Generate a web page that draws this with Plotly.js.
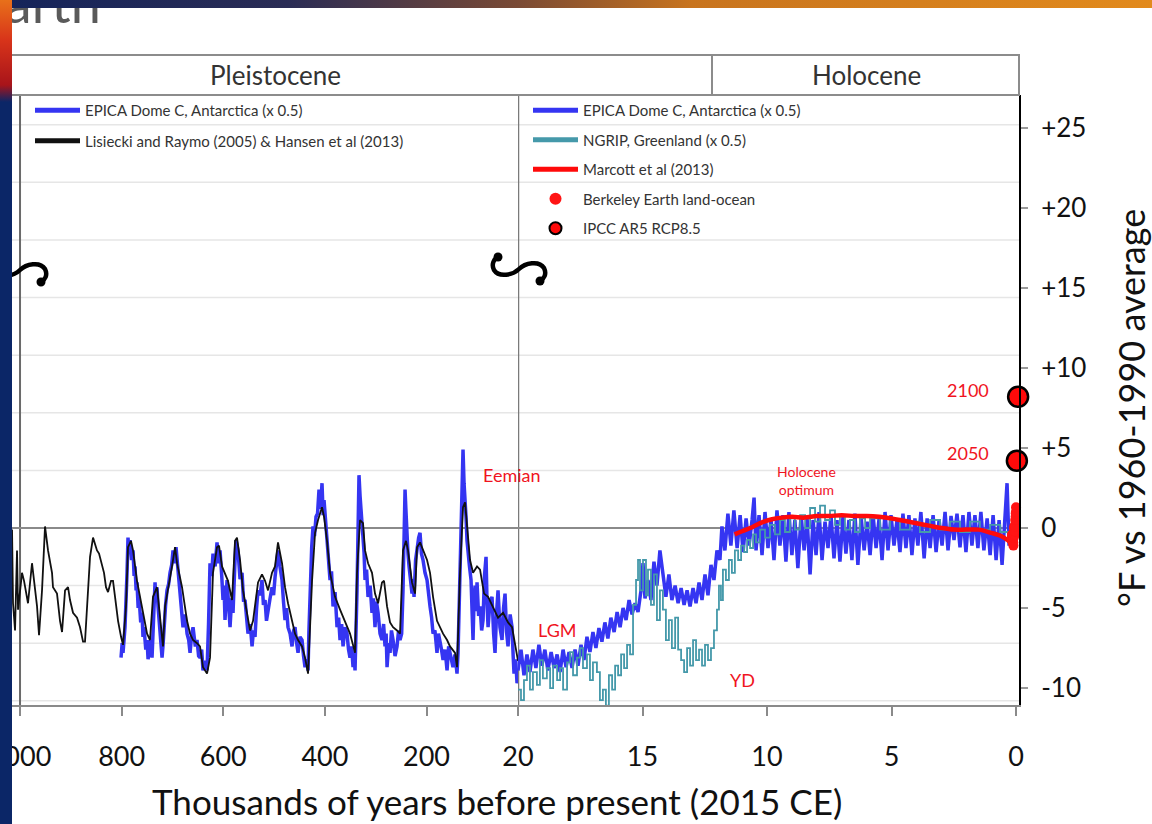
<!DOCTYPE html>
<html><head><meta charset="utf-8">
<script src="https://cdn.plot.ly/plotly-3.0.1.min.js"></script>
<style>
body{margin:0;background:#fff;}
#wrap{position:relative;width:1152px;height:824px;overflow:hidden;background:#fff;}
#chart{position:absolute;left:0;top:0;width:1152px;height:824px;}
#title{position:absolute;left:-26px;top:-24px;font-family:Lato,"Open Sans",sans-serif;font-size:54px;line-height:54px;color:#5a5a5a;z-index:5;white-space:nowrap;}
#topbar{position:absolute;left:0;top:0;width:1152px;height:8px;z-index:6;background:linear-gradient(90deg,#14245a 0%,#2a2c55 25%,#7a4a35 45%,#c8741e 60%,#e28a1c 100%);}
#leftbar{position:absolute;left:0;top:0;width:12px;height:824px;z-index:7;background:linear-gradient(180deg,#e8701a 0px,#d8341a 40px,#a8141a 85px,#0b2667 102px,#0b2667 824px);}
</style></head><body>
<div id="wrap"><div id="chart"></div><div id="title">Earth</div><div id="topbar"></div><div id="leftbar"></div></div>
<script>
// ---------- DATA (age in thousands of years BP, temperature in °F vs 1960-1990) ----------
const lisieckiData = [[1015.7,-0.1],[1013.8,-4.7],[1009.8,-6.4],[1005.9,-1.4],[1003.9,-5.1],[996.1,-2.8],[992.1,-3.3],[984.3,-4.7],[976.4,-2.2],[974.4,-2.8],[966.5,-4.9],[962.6,-6.7],[956.7,-3.9],[950.8,0.1],[944.9,-1.4],[937.0,-2.8],[935.1,-3.7],[927.2,-4.1],[921.3,-5.8],[917.3,-6.5],[911.4,-3.9],[905.5,-3.7],[901.6,-4.5],[895.7,-5.3],[887.8,-5.6],[881.9,-6.2],[876.0,-7.1],[872.1,-7.1],[868.1,-4.9],[862.2,-1.8],[856.3,-0.6],[848.5,-1.4],[844.5,-1.6],[838.6,-2.4],[834.7,-2.8],[830.8,-3.7],[826.8,-4.0],[820.9,-3.3],[817.0,-3.3],[813.0,-4.3],[807.1,-5.8],[801.2,-6.8],[797.3,-7.3],[791.4,-4.9],[787.5,-1.2],[781.6,-0.8],[777.6,-1.4],[769.8,-3.3],[763.8,-4.3],[757.9,-5.3],[750.0,-6.6],[744.2,-7.0],[738.3,-4.3],[730.4,-3.7],[726.4,-4.9],[718.6,-7.4],[714.6,-4.9],[708.7,-3.7],[700.9,-2.4],[694.9,-1.2],[691.0,-2.2],[681.2,-3.7],[671.3,-5.8],[665.4,-6.6],[659.5,-7.0],[651.7,-7.2],[645.8,-7.4],[639.9,-8.7],[632.0,-9.1],[626.1,-8.1],[620.2,-2.8],[612.3,-1.2],[608.4,-1.1],[602.5,-2.4],[596.6,-2.8],[590.7,-3.3],[582.8,-4.5],[576.9,-0.8],[573.0,-0.6],[567.0,-2.0],[561.1,-3.9],[553.3,-5.3],[547.4,-6.4],[541.4,-5.8],[531.6,-3.4],[523.8,-2.9],[517.8,-3.3],[511.9,-3.9],[504.1,-2.8],[498.2,-2.4],[492.3,-0.9],[484.4,-2.2],[478.5,-3.7],[472.6,-4.7],[464.7,-5.8],[458.8,-6.6],[452.9,-7.0],[445.0,-7.4],[439.1,-8.1],[433.2,-9.1],[425.3,-3.3],[419.4,-0.3],[413.5,0.5],[405.7,1.3],[401.7,0.7],[395.8,-0.8],[389.9,-2.8],[380.1,-4.3],[370.2,-5.1],[360.4,-5.8],[350.6,-6.6],[340.7,-7.8],[336.8,-2.8],[330.9,0.5],[325.0,0.3],[321.0,-1.4],[315.1,-2.2],[307.3,-2.8],[301.4,-4.1],[295.4,-4.7],[287.6,-3.4],[283.6,-3.3],[277.7,-4.9],[271.8,-5.9],[265.9,-6.2],[258.1,-6.4],[252.2,-6.6],[246.3,-1.4],[240.4,-0.8],[236.4,-1.4],[228.6,-3.4],[222.6,-4.1],[218.7,-1.2],[212.8,-0.9],[206.9,-1.4],[199.0,-2.0],[193.1,-2.8],[187.2,-4.3],[179.4,-5.8],[173.4,-6.2],[167.5,-6.6],[159.6,-7.0],[153.8,-7.4],[143.9,-7.8],[140.0,-8.7],[134.1,-2.8],[128.2,1.3],[124.2,1.6],[120.3,0.3],[114.4,-2.0],[108.5,-2.8],[100.6,-2.4],[94.7,-2.6],[86.8,-4.1],[78.9,-4.3],[69.1,-4.9],[59.3,-5.6],[49.4,-5.3],[39.6,-5.9],[31.7,-6.2],[21.9,-8.1],[20.0,-8.3]];

const epicaPleistocene = [[801.2,-8.1],[799,-7.2],[797.3,-7.8],[793.4,-6.2],[789.4,-2.8],[787.5,-0.6],[785.5,-1.5],[783.5,-0.75],[780.5,-2.0],[777.6,-1.4],[775.5,-3.0],[773.7,-2.4],[771.5,-3.9],[769.8,-3.4],[767.5,-5.0],[765.8,-4.3],[762.5,-5.9],[759.9,-5.3],[758,-6.8],[756.0,-6.2],[752.5,-7.6],[750.0,-7.0],[748,-8.2],[746.1,-7.8],[743,-7.0],[740.2,-8.1],[738.3,-6.2],[734.3,-3.4],[732.5,-4.4],[730.4,-3.7],[728.4,-4.9],[725.5,-6.0],[722.5,-7.0],[720.5,-8.1],[718.5,-7.3],[716.6,-6.2],[713.5,-4.8],[710.7,-3.9],[707.5,-3.5],[704.8,-2.8],[701.5,-2.3],[698.9,-1.4],[696,-2.2],[693.0,-1.2],[691.0,-2.0],[688,-3.3],[685.1,-4.1],[682,-5.2],[679.2,-6.2],[675,-5.4],[671.3,-6.6],[668,-7.0],[665.4,-7.8],[662,-6.6],[659.5,-6.2],[655,-7.4],[651.7,-7.0],[648.5,-8.0],[645.8,-8.1],[642.5,-7.6],[639.9,-8.9],[636,-8.3],[632.0,-8.9],[629,-6.0],[626.1,-2.2],[623,-3.0],[620.2,-1.6],[616,-2.4],[612.3,-0.9],[609,-2.2],[606.4,-1.4],[603,-3.0],[600.5,-4.5],[598.5,-3.6],[596.6,-5.75],[592.6,-3.25],[589.5,-4.6],[586.7,-6.2],[583.5,-4.4],[580.8,-5.3],[577.5,-2.5],[574.9,-0.75],[571.0,-1.4],[567,-3.2],[563.1,-2.8],[560,-4.6],[557.2,-4.5],[554,-6.0],[551.3,-6.6],[547,-6.0],[543.4,-7.4],[540.5,-6.4],[537.5,-6.8],[534.5,-5.0],[531.6,-3.9],[527.5,-4.2],[523.8,-3.25],[521,-4.8],[517.8,-4.5],[515,-5.8],[511.9,-5.3],[508,-4.4],[504.1,-3.7],[501,-4.2],[498.2,-3.1],[495,-2.2],[492.3,-1.4],[488.5,-2.4],[484.4,-3.25],[481.5,-4.6],[478.5,-5.75],[475.5,-5.0],[472.6,-6.2],[468.5,-6.6],[464.7,-7.4],[461.5,-6.4],[458.8,-6.2],[455.5,-7.2],[452.9,-7.8],[449,-6.8],[445.0,-7.0],[442,-8.0],[439.1,-8.7],[436,-8.2],[433.2,-8.9],[431.5,-6.5],[429.3,-3.7],[426,-1.2],[423.4,0.1],[420.5,-0.5],[417.5,0.7],[414.5,0.9],[411.6,2.4],[408.5,1.2],[405.7,2.8],[403.5,0.8],[401.7,1.75],[398.5,0.2],[395.8,-0.75],[392.5,-2.2],[389.9,-3.25],[387,-2.7],[384.0,-4.9],[380,-4.0],[376.1,-6.2],[373,-5.6],[370.2,-7.0],[367,-6.0],[364.3,-7.4],[360.5,-6.2],[356.5,-6.6],[353.5,-7.6],[350.6,-8.1],[347.5,-7.4],[344.6,-8.7],[342.5,-7.8],[340.7,-8.9],[336.8,-3.9],[334.8,1.3],[332.9,3.3],[330.8,2.0],[328.9,1.3],[326.9,0.4],[325.0,-0.6],[323,-1.5],[321.0,-3.25],[318,-2.6],[315.1,-4.3],[311,-3.6],[307.3,-5.3],[304.5,-4.4],[301.4,-6.2],[298.5,-4.6],[295.4,-5.3],[291.5,-6.6],[287.6,-7.0],[284.5,-6.0],[281.7,-7.4],[279.5,-6.6],[277.7,-8.7],[274.5,-7.2],[271.8,-7.8],[269,-6.4],[265.9,-7.0],[262,-8.0],[258.1,-7.4],[255,-6.4],[252.2,-7.0],[249,-6.6],[246.3,-3.9],[244.3,0.5],[242.3,2.4],[240.4,1.0],[238.4,-0.6],[236.5,-1.6],[234.4,-2.4],[231.5,-3.4],[228.6,-4.1],[226.5,-3.2],[224.6,-4.3],[221.5,-2.0],[218.7,-1.2],[215.5,-0.6],[212.8,-0.3],[210,-1.6],[206.9,-2.0],[203,-2.8],[199.0,-3.25],[196,-4.4],[193.1,-4.9],[190,-5.6],[187.2,-6.6],[183.5,-6.4],[179.4,-7.8],[176.5,-6.6],[173.4,-7.0],[170.5,-7.6],[167.5,-8.25],[163.5,-7.6],[159.6,-8.9],[156.5,-7.4],[153.8,-7.8],[151,-8.2],[147.9,-8.7],[144,-7.9],[140.0,-9.1],[138,-7.8],[136.0,-4.9],[134,-1.0],[132.1,1.75],[130,3.0],[128.2,4.9],[126.2,2.8],[124.3,2.0],[122.3,0.7],[120.3,-0.8],[118.3,-1.8],[115.5,-2.4],[112.4,-3.25],[110.5,-5.5],[108.5,-7.0],[106.5,-4.5],[104.5,-3.6],[102.5,-5.2],[100.6,-3.4],[97.5,-5.5],[94.7,-4.9],[91.5,-6.4],[88.8,-5.75],[86,-3.0],[84.5,-2.2],[82.9,-1.8],[80.8,-4.8],[78.9,-6.2],[75,-4.6],[71.1,-4.3],[68,-6.6],[65.2,-7.8],[62,-5.2],[59.3,-3.9],[55.5,-6.2],[51.4,-7.0],[48.5,-5.0],[45.5,-4.1],[42.5,-6.5],[39.6,-7.4],[35.5,-5.4],[31.7,-6.2],[29.5,-8.0],[27.8,-9.1],[24.5,-8.2],[21.9,-9.7],[20.0,-9.0]];

const epicaHolocene = [[20.0,-8.9],[19.88,-7.6],[19.76,-9.2],[19.64,-7.9],[19.52,-9.0],[19.40,-7.6],[19.28,-8.75],[19.16,-7.3],[19.04,-8.6],[18.92,-7.6],[18.80,-8.9],[18.67,-7.75],[18.55,-8.75],[18.43,-7.9],[18.31,-9.0],[18.19,-7.6],[18.07,-8.7],[17.95,-7.75],[17.83,-8.75],[17.71,-7.6],[17.59,-8.6],[17.47,-7.3],[17.35,-8.25],[17.23,-6.8],[17.11,-7.75],[16.99,-6.5],[16.87,-7.5],[16.75,-6.25],[16.63,-7.1],[16.51,-5.9],[16.39,-6.9],[16.27,-5.6],[16.14,-6.5],[16.02,-5.25],[15.90,-6.2],[15.78,-5.0],[15.66,-5.75],[15.54,-4.5],[15.42,-5.4],[15.30,-4.7],[15.18,-5.25],[15.06,-3.9],[14.98,-2.2],[14.90,-4.4],[14.78,-3.25],[14.66,-4.5],[14.54,-2.1],[14.42,-3.6],[14.30,-1.4],[14.18,-2.75],[14.06,-4.3],[13.94,-2.9],[13.82,-4.5],[13.69,-3.6],[13.57,-4.7],[13.45,-3.75],[13.33,-4.8],[13.21,-3.9],[13.09,-4.9],[12.97,-3.75],[12.85,-4.7],[12.73,-3.4],[12.61,-4.5],[12.49,-2.9],[12.37,-4.2],[12.25,-2.3],[12.13,-3.25],[12.01,-1.4],[11.89,-2.0],[11.81,0.1],[11.69,-1.4],[11.57,0.9],[11.45,-1.1],[11.33,1.1],[11.20,-1.25],[11.08,0.8],[10.96,-1.5],[10.84,0.6],[10.72,-1.1],[10.60,0.5],[10.52,1.9],[10.44,-1.4],[10.32,0.8],[10.20,-1.7],[10.08,1.0],[9.96,-1.25],[9.84,0.6],[9.72,-2.0],[9.60,1.1],[9.48,-1.1],[9.36,0.8],[9.24,-2.1],[9.12,1.0],[9.00,-1.7],[8.88,0.5],[8.76,-2.5],[8.63,0.8],[8.51,-1.4],[8.39,0.6],[8.27,-2.9],[8.15,0.5],[8.03,-1.7],[7.91,1.0],[7.79,-2.0],[7.67,0.4],[7.55,-1.25],[7.43,0.8],[7.31,-1.9],[7.19,0.5],[7.07,-2.1],[6.95,0.7],[6.83,-1.6],[6.71,0.5],[6.59,-2.0],[6.47,0.9],[6.35,-2.3],[6.22,0.7],[6.10,-1.4],[5.98,0.4],[5.86,-1.7],[5.74,0.8],[5.62,-1.25],[5.50,0.6],[5.38,-2.0],[5.26,1.0],[5.14,-1.4],[5.02,0.8],[4.90,-1.1],[4.78,0.5],[4.66,-1.5],[4.54,0.9],[4.42,-1.25],[4.30,0.8],[4.18,-1.7],[4.06,0.6],[3.94,-1.1],[3.82,1.0],[3.69,-1.9],[3.57,0.6],[3.45,-1.25],[3.33,0.8],[3.21,-1.5],[3.09,0.5],[2.97,-1.1],[2.85,1.0],[2.73,-1.4],[2.61,0.75],[2.49,-0.75],[2.37,0.9],[2.25,-1.2],[2.13,0.8],[2.01,-1.5],[1.89,1.0],[1.77,-1.1],[1.65,0.8],[1.53,-1.25],[1.41,1.0],[1.29,-1.4],[1.16,0.6],[1.04,-1.7],[0.92,0.8],[0.80,-2.0],[0.68,0.5],[0.56,-2.3],[0.44,0.9],[0.36,2.8],[0.28,-1.1],[0.20,0.2]];

const ngripData = [[20.0,-10.1],[19.88,-10.75],[19.76,-9.5],[19.64,-8.6],[19.52,-10.1],[19.40,-9.0],[19.24,-9.8],[19.12,-8.25],[19.00,-9.4],[18.84,-8.75],[18.71,-10.0],[18.59,-8.6],[18.43,-9.5],[18.31,-8.75],[18.19,-10.1],[18.03,-8.4],[17.91,-7.75],[17.79,-9.2],[17.63,-8.1],[17.51,-7.5],[17.39,-8.75],[17.23,-7.9],[17.11,-9.5],[16.99,-8.4],[16.83,-9.0],[16.71,-10.75],[16.59,-10.1],[16.47,-11.1],[16.35,-9.2],[16.22,-10.1],[16.10,-8.6],[15.98,-9.2],[15.86,-7.9],[15.74,-8.75],[15.62,-7.3],[15.50,-7.9],[15.38,-4.8],[15.26,-3.25],[15.18,-2.0],[15.10,-3.9],[14.98,-2.0],[14.86,-4.2],[14.78,-2.6],[14.66,-4.8],[14.54,-2.9],[14.42,-5.75],[14.30,-3.9],[14.18,-5.1],[14.06,-7.0],[13.94,-5.75],[13.82,-7.5],[13.69,-5.6],[13.57,-7.6],[13.45,-8.25],[13.33,-9.0],[13.21,-7.5],[13.09,-8.6],[12.97,-7.0],[12.85,-8.25],[12.73,-7.6],[12.61,-8.6],[12.49,-7.3],[12.37,-8.25],[12.25,-7.5],[12.13,-6.4],[12.01,-5.1],[11.93,-3.6],[11.85,-4.5],[11.77,-2.6],[11.65,-3.25],[11.53,-2.0],[11.41,-2.8],[11.29,-1.4],[11.16,-2.0],[11.04,-1.1],[10.92,-1.5],[10.80,-0.75],[10.68,-1.25],[10.56,-0.4],[10.44,-0.9],[10.28,-0.1],[10.08,-0.6],[9.88,0.2],[9.68,-0.4],[9.48,0.5],[9.28,-0.25],[9.08,0.6],[8.88,-0.1],[8.67,0.8],[8.47,0.0],[8.27,1.25],[8.07,0.4],[7.87,1.4],[7.67,0.5],[7.47,1.1],[7.27,0.2],[7.07,0.8],[6.87,-0.1],[6.67,0.5],[6.47,-0.25],[6.27,0.6],[6.06,0.0],[5.86,0.6],[5.46,-0.1],[5.06,0.5],[4.66,-0.1],[4.26,0.4],[3.86,-0.25],[3.45,0.5],[3.05,-0.1],[2.65,0.4],[2.25,-0.25],[1.85,0.4],[1.45,-0.1],[1.04,0.2],[0.64,-0.25],[0.24,0.1]];

const marcottData = [[11.3,-0.4],[11.0,-0.2],[10.6,0.05],[10.2,0.35],[9.8,0.55],[9.4,0.65],[9.0,0.7],[8.5,0.65],[8.0,0.75],[7.5,0.75],[7.0,0.8],[6.5,0.75],[6.0,0.75],[5.5,0.7],[5.0,0.6],[4.5,0.45],[4.0,0.3],[3.5,0.15],[3.0,0.0],[2.5,-0.1],[2.0,-0.1],[1.5,-0.1],[1.0,-0.3],[0.6,-0.5],[0.3,-0.8],[0.15,-1.0]];

const berkeleyData = [[0.165,-0.6],[0.160,-0.4],[0.155,-0.7],[0.150,-0.5],[0.145,-0.4],[0.140,-0.8],[0.135,-0.5],[0.130,-0.7],[0.125,-0.9],[0.120,-0.7],[0.115,-0.4],[0.110,-0.9],[0.105,-1.1],[0.100,-0.6],[0.095,-0.6],[0.090,-0.5],[0.085,-0.3],[0.080,-0.4],[0.075,0.0],[0.070,0.1],[0.065,-0.3],[0.060,-0.4],[0.055,0.0],[0.050,-0.2],[0.045,-0.1],[0.040,-0.2],[0.035,0.2],[0.030,0.1],[0.025,0.5],[0.020,0.5],[0.015,0.7],[0.010,0.9],[0.005,1.0],[0.000,1.3]];

const ipccAge = [-0.035, -0.085];
const ipccTemp = [4.2, 8.2];
const ipccYears = ['2050', '2100'];

const pleistoTicks = [1000, 800, 600, 400, 200];
const holoTicks = [20, 15, 10, 5, 0];
const tempTicks = [-10, -5, 0, 5, 10, 15, 20, 25];
const tempTickText = ['-10', '-5', '0', '+5', '+10', '+15', '+20', '+25'];
const gridVals = [-10.8, -7.2, -3.6, 3.6, 7.2, 10.8, 14.4, 18.0, 21.6, 25.2];

// ---------- helpers ----------
const xs = d => d.map(p => p[0]);
const ys = d => d.map(p => p[1]);
const FONT = 'Lato, "Open Sans", sans-serif';
const RED = '#f0141e';
// pixel -> paper conversion for decorations (plot area: x 0..PW, y PT..PB)
const PW = 1019, PT = 95, PB = 705;
const px = x => x / PW;
const py = y => (PB - y) / (PB - PT);

const traces = [
  {x: xs(epicaPleistocene), y: ys(epicaPleistocene), xaxis: 'x', yaxis: 'y', type: 'scatter', mode: 'lines',
   line: {color: '#3535f2', width: 3.5}, name: 'EPICA Dome C, Antarctica (x 0.5)', legend: 'legend', legendgroup: 'a'},
  {x: xs(lisieckiData), y: ys(lisieckiData), xaxis: 'x', yaxis: 'y', type: 'scatter', mode: 'lines',
   line: {color: '#111111', width: 1.8}, name: 'Lisiecki and Raymo (2005) & Hansen et al (2013)', legend: 'legend', legendgroup: 'b'},
  {x: xs(epicaHolocene), y: ys(epicaHolocene), xaxis: 'x2', yaxis: 'y', type: 'scatter', mode: 'lines',
   line: {color: '#3535f2', width: 3.5}, name: 'EPICA Dome C, Antarctica (x 0.5)', legend: 'legend2', legendgroup: 'c'},
  {x: xs(ngripData), y: ys(ngripData), xaxis: 'x2', yaxis: 'y', type: 'scatter', mode: 'lines',
   line: {color: '#4599aa', width: 1.8, shape: 'hv'}, name: 'NGRIP, Greenland (x 0.5)', legend: 'legend2', legendgroup: 'd'},
  {x: xs(marcottData), y: ys(marcottData), xaxis: 'x2', yaxis: 'y', type: 'scatter', mode: 'lines',
   line: {color: '#ff0a0a', width: 4.5, shape: 'spline'}, name: 'Marcott et al (2013)', legend: 'legend2', legendgroup: 'e'},
  {x: xs(berkeleyData), y: ys(berkeleyData), xaxis: 'x2', yaxis: 'y', type: 'scatter', mode: 'markers', cliponaxis: false,
   marker: {color: '#ff1414', size: 10}, name: 'Berkeley Earth land-ocean', legend: 'legend2', legendgroup: 'f'},
  {x: ipccAge, y: ipccTemp, text: ipccYears, xaxis: 'x2', yaxis: 'y', type: 'scatter', mode: 'markers', cliponaxis: false,
   marker: {color: '#ff0a0a', size: 20, line: {color: '#000', width: 2.5}}, name: 'IPCC AR5 RCP8.5', legend: 'legend2', legendgroup: 'g'}
];

function squiggle(cx, cy) {
  const P = (dx, dy) => px(cx + dx).toFixed(5) + ',' + py(cy + dy).toFixed(5);
  const path = 'M' + P(-21, -12) + ' C' + P(-25, -10) + ' ' + P(-28, -5) + ' ' + P(-25, 1) +
    ' C' + P(-20, 9) + ' ' + P(-6, 6) + ' ' + P(0, 0) +
    ' C' + P(6, -6) + ' ' + P(20, -9) + ' ' + P(25, -1) +
    ' C' + P(28, 5) + ' ' + P(25, 10) + ' ' + P(21, 12);
  const ball = (bx, by) => ({type: 'circle', xref: 'paper', yref: 'paper', layer: 'above',
    x0: px(cx + bx - 4.5), x1: px(cx + bx + 4.5), y0: py(cy + by + 4.5), y1: py(cy + by - 4.5),
    fillcolor: '#000', line: {width: 0}});
  return [{type: 'path', xref: 'paper', yref: 'paper', path: path, layer: 'above', line: {color: '#000', width: 4.5}},
          ball(-21, -12), ball(21, 12)];
}

const shapes = [];
gridVals.forEach(g => shapes.push({type: 'line', xref: 'paper', yref: 'y', x0: 0, x1: 1, y0: g, y1: g,
  layer: 'below', line: {color: '#e6e6e6', width: 1.5}}));
shapes.push({type: 'line', xref: 'x', yref: 'paper', x0: 1000, x1: 1000, y0: 0, y1: 1, layer: 'below', line: {color: '#6a6a6a', width: 2}});
shapes.push({type: 'line', xref: 'x2', yref: 'paper', x0: 20, x1: 20, y0: 0, y1: 1, layer: 'below', line: {color: '#7a7a7a', width: 2.5}});
shapes.push({type: 'line', xref: 'paper', yref: 'paper', x0: 0, x1: 1, y0: 1, y1: 1, line: {color: '#8c8c8c', width: 2}});
shapes.push({type: 'rect', xref: 'paper', yref: 'paper', x0: 0, x1: px(712), y0: 1, y1: py(55), line: {color: '#8c8c8c', width: 2}});
shapes.push({type: 'rect', xref: 'paper', yref: 'paper', x0: px(712), x1: 1, y0: 1, y1: py(55), line: {color: '#8c8c8c', width: 2}});
shapes.push(...squiggle(20, 270));
shapes.push(...squiggle(519, 269));

const ann = (o) => Object.assign({showarrow: false, xanchor: 'center', yanchor: 'middle'}, o);
const annotations = [
  ann({xref: 'paper', yref: 'paper', x: px(275), y: py(75), text: 'Pleistocene', font: {family: FONT, size: 26, color: '#333'}}),
  ann({xref: 'paper', yref: 'paper', x: px(866), y: py(75), text: 'Holocene', font: {family: FONT, size: 26, color: '#333'}}),
  ann({xref: 'x', yref: 'y', x: 31.8, y: 3.3, text: 'Eemian', font: {family: FONT, size: 18, color: RED}}),
  ann({xref: 'x2', yref: 'y', x: 18.4, y: -6.4, text: 'LGM', font: {family: FONT, size: 18, color: RED}}),
  ann({xref: 'x2', yref: 'y', x: 11.0, y: -9.5, text: 'YD', font: {family: FONT, size: 18, color: RED}}),
  ann({xref: 'x2', yref: 'y', x: 8.43, y: 3.0, text: 'Holocene<br>optimum', font: {family: FONT, size: 14, color: RED}}),
  ann({xref: 'x2', yref: 'y', x: 1.93, y: 8.6, text: ipccYears[1], font: {family: FONT, size: 18, color: RED}}),
  ann({xref: 'x2', yref: 'y', x: 1.93, y: 4.7, text: ipccYears[0], font: {family: FONT, size: 18, color: RED}}),
  ann({xref: 'paper', yref: 'paper', x: px(497), y: py(801), text: 'Thousands of years before present (2015 CE)',
   font: {family: FONT, size: 35, color: '#111'}}),
  ann({xref: 'paper', yref: 'paper', x: px(1131), y: py(408), text: '°F vs 1960-1990 average', textangle: -90,
   font: {family: FONT, size: 36, color: '#111'}})
];

const axCommon = {showgrid: false, zeroline: false, showline: true, linecolor: '#8a8a8a', linewidth: 2,
  ticks: 'outside', ticklen: 9, tickwidth: 2, tickcolor: '#8a8a8a', tickfont: {family: FONT, size: 27, color: '#111'},
  ticklabelstandoff: 18, ticklabeloverflow: 'allow', fixedrange: true};

const layout = {
  width: 1152, height: 824,
  margin: {l: 0, r: 1152 - PW, t: PT, b: 824 - PB, pad: 0},
  paper_bgcolor: '#fff', plot_bgcolor: 'rgba(0,0,0,0)',
  font: {family: FONT, color: '#222'},
  showlegend: true,
  xaxis: Object.assign({}, axCommon, {domain: [0, px(518)], range: [1039.4, 20], anchor: 'y',
    tickmode: 'array', tickvals: pleistoTicks, ticktext: pleistoTicks.map(String)}),
  xaxis2: Object.assign({}, axCommon, {domain: [px(518), 1], range: [20, -0.12], anchor: 'y',
    tickmode: 'array', tickvals: holoTicks, ticktext: holoTicks.map(String)}),
  yaxis: {domain: [0, 1], range: [-11.06, 27.06], anchor: 'x2', side: 'right',
    tickmode: 'array', tickvals: tempTicks, ticktext: tempTickText,
    showgrid: false, zeroline: true, zerolinecolor: '#8a8a8a', zerolinewidth: 2.5,
    showline: true, linecolor: '#000', linewidth: 2,
    ticks: 'outside', ticklen: 7, tickwidth: 2, tickcolor: '#9a9a9a', ticklabelstandoff: 8,
    tickfont: {family: FONT, size: 26, color: '#111'}, fixedrange: true},
  legend: {x: px(30), y: py(94), xanchor: 'left', yanchor: 'top', bgcolor: 'rgba(0,0,0,0)',
    font: {family: FONT, size: 15, color: '#333'}, tracegroupgap: 8, itemwidth: 45, itemsizing: 'constant'},
  legend2: {x: px(528), y: py(94), xanchor: 'left', yanchor: 'top', bgcolor: 'rgba(0,0,0,0)',
    font: {family: FONT, size: 15, color: '#333'}, tracegroupgap: 7, itemwidth: 45, itemsizing: 'constant'},
  shapes: shapes,
  annotations: annotations
};

Plotly.newPlot('chart', traces, layout, {displayModeBar: false, staticPlot: true});
</script>
</body></html>
